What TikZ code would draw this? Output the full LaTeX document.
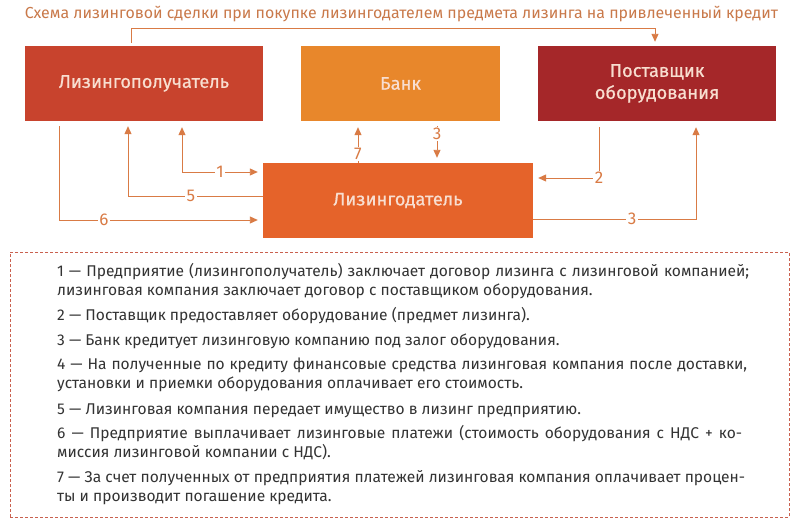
\documentclass[tikz,border=0pt]{standalone}
\usepackage{fontspec}
\setmainfont{Fira Sans}
\newfontfamily\boxfont[FakeBold=0.7]{Fira Sans}
\usetikzlibrary{arrows.meta}
\definecolor{ttl}{HTML}{C9794A}
\definecolor{ln}{HTML}{D97B45}
\definecolor{clp}{HTML}{C8432D}
\definecolor{cbank}{HTML}{E8872B}
\definecolor{csup}{HTML}{A52729}
\definecolor{cld}{HTML}{E5632A}
\definecolor{btxt}{HTML}{F8DED0}
\definecolor{bodytxt}{HTML}{333333}
\definecolor{dashc}{HTML}{C9614F}
\newcommand\jl[2]{\makebox[#1][s]{#2}}
\begin{document}
\begin{tikzpicture}[x=1pt,y=-1pt,
 box/.style={minimum height=75pt, inner sep=0pt, text=btxt, font=\boxfont\fontsize{18.3}{22}\selectfont, align=center},
 conn/.style={draw=ln, line width=0.9pt},
 tip/.style={-{Triangle[length=8pt,width=7pt]}},
 arr/.style={conn, tip, shorten >=5pt},
 lbl/.style={fill=white, text=ln, font=\fontsize{17}{17}\selectfont, inner sep=1.5pt},
 para/.style={anchor=base west, inner sep=0pt, text=bodytxt, font=\fontsize{15.55}{19}\selectfont, align=left}]
\path[use as bounding box, fill=white] (0,0) rectangle (800,522);

\node[text=ttl, inner sep=0pt] (title) at (401.5,14) {\resizebox{753pt}{!}{\fontsize{15}{15}\selectfont Схема лизинговой сделки при покупке лизингодателем предмета лизинга на привлеченный кредит}};

\node[box, fill=clp, minimum width=238pt] (lp) at (144,83.5) {Лизингополучатель};
\node[box, fill=cbank, minimum width=199pt] (bank) at (400.5,83.5) {Банк};
\node[box, fill=csup, minimum width=238pt] (sup) at (657,83.5) {Поставщик\\оборудования};
\node[box, fill=cld, minimum width=270pt] (ld) at (398,200.5) {Лизингодатель};

\coordinate (ct) at (131,28);
\coordinate (ct2) at (655,28);
\coordinate (c6) at (59,220);
\coordinate (c5) at (128,196);
\coordinate (c1) at (182,172);
\coordinate (c7) at (358,0);
\coordinate (c3b) at (437,0);
\coordinate (c2) at (599,178);
\coordinate (c3) at (696,219);

\draw[arr, shorten <=3pt, shorten >=4pt] (lp.north -| ct) |- (ct2) -- (sup.north -| ct2);
\draw[arr, shorten <=5pt] (lp.south -| c6) |- (ld.west |- c6);
\draw[arr] (ld.west |- c5) -| (lp.south -| c5);
\draw[conn, {Triangle[length=8pt,width=7pt]}-{Triangle[length=8pt,width=7pt]}, shorten >=5pt, shorten <=6pt] (lp.south -| c1) |- (ld.west |- c1);
\draw[arr, shorten >=6pt] (ld.north -| c7) -- (bank.south -| c7);
\draw[arr, shorten <=5pt] (bank.south -| c3b) -- (ld.north -| c3b);
\draw[arr, shorten <=6pt] (sup.south -| c2) |- (ld.east |- c2);
\draw[arr, shorten >=6pt] (ld.east |- c3) -| (sup.south -| c3);

\node[lbl] (n1) at (220,172) {1};
\node[lbl] (n5) at (191,196) {5};
\node[lbl] (n6) at (104,220) {6};
\node[lbl] (n7) at (358,154) {7};
\node[lbl] (n3b) at (437,134) {3};
\node[lbl] (n2) at (599,178) {2};
\node[lbl] (n3) at (632,219) {3};

\node[draw=dashc, line width=1pt, dash pattern=on 3pt off 2pt, minimum width=779pt, minimum height=265pt, inner sep=0pt] (legend) at (399.5,384.5) {};

\node[para] (p1) at (57,295) {\jl{692pt}{1 — Предприятие (лизингополучатель) заключает договор лизинга с лизинговой компанией;}\\лизинговая компания заключает договор с поставщиком оборудования.};
\node[para] (p2) at (57,320) {2 — Поставщик предоставляет оборудование (предмет лизинга).};
\node[para] (p3) at (57,345) {3 — Банк кредитует лизинговую компанию под залог оборудования.};
\node[para] (p4) at (57,388) {\jl{690pt}{4 — На полученные по кредиту финансовые средства лизинговая компания после доставки,}\\установки и приемки оборудования оплачивает его стоимость.};
\node[para] (p5) at (57,414) {5 — Лизинговая компания передает имущество в лизинг предприятию.};
\node[para] (p6) at (57,457) {\jl{685pt}{6 — Предприятие выплачивает лизинговые платежи (стоимость оборудования с НДС + ко-}\\миссия лизинговой компании с НДС).};
\node[para] (p7) at (57,501) {\jl{688pt}{7 — За счет полученных от предприятия платежей лизинговая компания оплачивает процен-}\\ты и производит погашение кредита.};
\end{tikzpicture}
\end{document}
